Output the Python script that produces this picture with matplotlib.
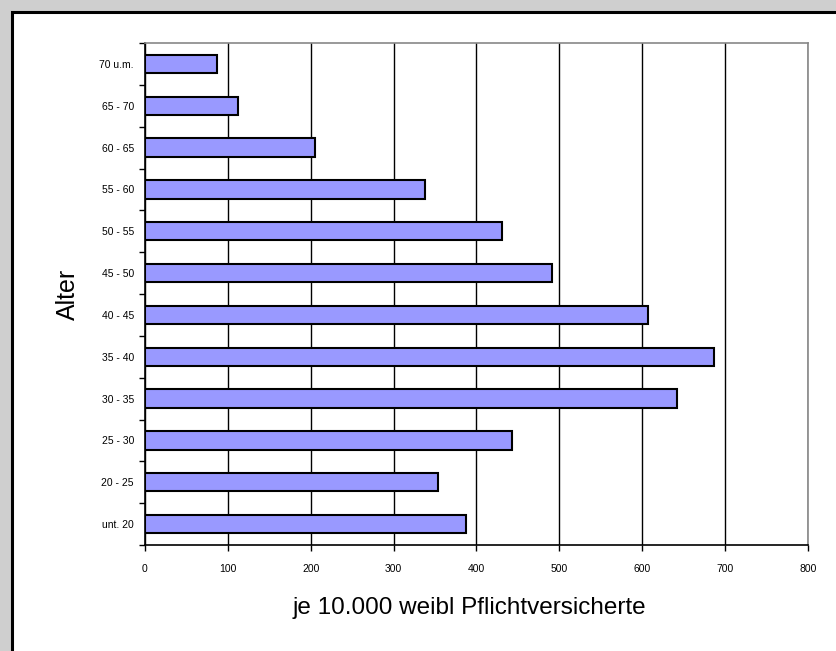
import matplotlib
matplotlib.use("Agg")
import matplotlib.pyplot as plt
from matplotlib.patches import Rectangle
import numpy as np

plt.rcParams['font.family'] = ['Liberation Sans', 'DejaVu Sans']

ages = ['unt. 20', '20 - 25', '25 - 30', '30 - 35', '35 - 40', '40 - 45',
        '45 - 50', '50 - 55', '55 - 60', '60 - 65', '65 - 70', '70 u.m.']
rates = [387, 353, 443, 642, 686, 607, 491, 431, 338, 205, 112, 87]
xticks = [0, 100, 200, 300, 400, 500, 600, 700, 800]

fig = plt.figure(figsize=(8.37, 6.51), dpi=100)
fig.patch.set_facecolor('#cfcfcf')

# white chart area with black frame, running off right/bottom edge
W, H = 837, 651
frame = Rectangle((12 / W, -0.05), 1.2, 1 - 12 / H + 0.05,
                  transform=fig.transFigure, facecolor='white',
                  edgecolor='black', linewidth=2.2, zorder=-5)
fig.patches.append(frame)

ax = fig.add_axes([145 / W, 1 - 545 / H, (808 - 145) / W, (545 - 43) / H])
ax.set_zorder(2)
ax.set_facecolor('white')

y = np.arange(len(ages))
ax.barh(y, rates, height=0.435, color='#9999ff', edgecolor='black',
        linewidth=1.5, zorder=3)

ax.set_xlim(0, 800)
ax.set_ylim(-0.5, len(ages) - 0.5)
ax.set_xticks(xticks)
ax.set_xticklabels([str(v) for v in xticks], fontsize=7.5)
ax.set_yticks(y)
ax.set_yticklabels(ages, fontsize=7.5)
ax.tick_params(axis='y', length=0, pad=8)
ax.set_yticks(np.arange(-0.5, len(ages), 1), minor=True)
ax.tick_params(axis='y', which='minor', length=4, direction='out', width=1)
ax.tick_params(axis='x', length=4, direction='out', width=1, pad=10)

ax.xaxis.grid(True, color='black', linewidth=1)
ax.set_axisbelow(True)

ax.spines['left'].set_color('black')
ax.spines['bottom'].set_color('black')
ax.spines['top'].set_color('#888888')
ax.spines['right'].set_color('#888888')
for s in ax.spines.values():
    s.set_linewidth(1.2)

ax.set_xlabel('je 10.000 weibl Pflichtversicherte', fontsize=17.5)
ax.xaxis.set_label_coords(0.49, -0.103)
ax.set_ylabel('Alter', fontsize=18, labelpad=14)

fig.savefig('out.png', dpi=100, facecolor=fig.get_facecolor())
